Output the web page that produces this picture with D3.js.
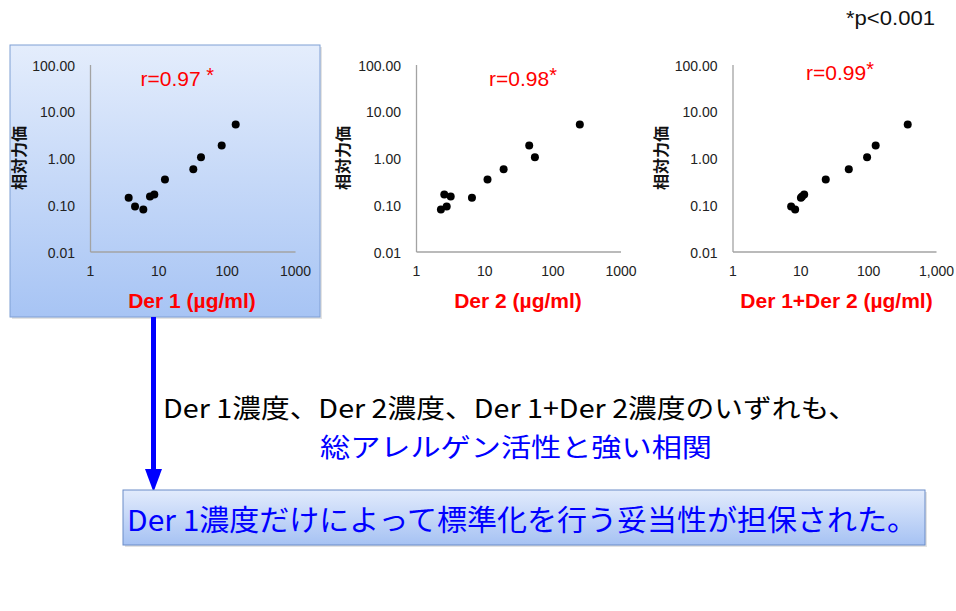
<!DOCTYPE html>
<html>
<head>
<meta charset="utf-8">
<script src="https://cdn.jsdelivr.net/npm/d3@7/dist/d3.min.js"></script>
<style>
  html, body { margin: 0; padding: 0; background: #ffffff; }
  svg { display: block; }
</style>
</head>
<body>
<svg id="chart" width="956" height="611"></svg>
<script>
// ---------------- DATA ----------------
const activity   = [0.141, 0.092, 0.079, 0.150, 0.166, 0.347, 0.575, 1.04, 1.85, 5.21];   // 相対力価
const der1       = [3.68, 4.56, 6.03, 7.55, 8.73, 12.5, 32.5, 42.1, 84.6, 135.6];        // Der 1 (µg/ml)
const der2       = [6.62, 2.82, 2.32, 3.23, 2.60, 11.2, 19.3, 55.5, 45.8, 253];          // Der 2 (µg/ml)
const der12      = [10.2, 7.32, 8.38, 10.6, 11.4, 23.7, 51.8, 96.4, 129, 383];           // Der 1+Der 2 (µg/ml)

const yTickValues = [0.01, 0.1, 1, 10, 100];
const yTickLabels = ["0.01", "0.10", "1.00", "10.00", "100.00"];
const xTickValues = [1, 10, 100, 1000];
const xTickLabelsA = ["1", "10", "100", "1000"];
const xTickLabelsB = ["1", "10", "100", "1,000"];

const panelTitles = ["Der 1 (µg/ml)", "Der 2 (µg/ml)", "Der 1+Der 2 (µg/ml)"];
const rValues     = ["r=0.97", "r=0.98", "r=0.99"];
const yTitle      = "相対力価";
const pNote       = "*p<0.001";
const line1       = "Der 1濃度、Der 2濃度、Der 1+Der 2濃度のいずれも、";
const line2       = "総アレルゲン活性と強い相関";
const conclusion  = "Der 1濃度だけによって標準化を行う妥当性が担保された。";

// ---------------- LAYOUT ----------------
const svg = d3.select("#chart");
const latin = "'Liberation Sans', Arial, sans-serif";
const cjk = "'Noto Sans CJK JP', 'Noto Sans', sans-serif";

const defs = svg.append("defs");
function grad(id, top, bottom) {
  const g = defs.append("linearGradient").attr("id", id)
    .attr("x1", 0).attr("y1", 0).attr("x2", 0).attr("y2", 1);
  g.append("stop").attr("offset", "0%").attr("stop-color", top);
  g.append("stop").attr("offset", "100%").attr("stop-color", bottom);
}
grad("gPanel", "#e4edfc", "#a7c4f4");
grad("gBox", "#e2ebfc", "#a6c2f3");

// Panel 1 highlighted box (with soft shadow)
svg.append("rect").attr("x", 12).attr("y", 47).attr("width", 310).attr("height", 272)
  .attr("fill", "#d0d0d0").attr("opacity", 0.6);
svg.append("rect").attr("x", 10).attr("y", 45).attr("width", 310).attr("height", 272)
  .attr("fill", "url(#gPanel)").attr("stroke", "#7f9fd4").attr("stroke-width", 1);

const panels = [
  { x0: 90,    x1: 295,   xs: der1,  labels: xTickLabelsA, ytx: 18,  rx: 140.5, ry: 86, rsp: " *", title: panelTitles[0], tcx: 192 },
  { x0: 416,   x1: 620.5, xs: der2,  labels: xTickLabelsA, ytx: 342, rx: 489,   ry: 86, rsp: "*",  title: panelTitles[1], tcx: 518 },
  { x0: 732.5, x1: 936,   xs: der12, labels: xTickLabelsB, ytx: 660, rx: 806,   ry: 80, rsp: "*",  title: panelTitles[2], tcx: 836.5 }
];

const yTop = 64.5, yBot = 251.5;

panels.forEach((p, i) => {
  const x = d3.scaleLog().domain([1, 1000]).range([p.x0, p.x1]);
  const y = d3.scaleLog().domain([0.01, 100]).range([yBot, yTop]);
  const g = svg.append("g");

  // y axis
  const ya = g.append("g").attr("transform", `translate(${p.x0},0)`)
    .call(d3.axisLeft(y).tickValues(yTickValues)
      .tickFormat((d, k) => yTickLabels[k]).tickSizeInner(0).tickSizeOuter(0).tickPadding(15));
  ya.select(".domain").attr("stroke", "#a3a3a3").attr("stroke-width", 1.3);
  ya.selectAll("text").attr("font-family", latin).attr("font-size", 14).attr("fill", "#222").attr("dy", "0.4em");

  // x axis
  const xa = g.append("g").attr("transform", `translate(0,${yBot})`)
    .call(d3.axisBottom(x).tickValues(xTickValues)
      .tickFormat((d, k) => p.labels[k]).tickSizeInner(0).tickSizeOuter(0).tickPadding(15));
  xa.select(".domain").attr("stroke", "#a3a3a3").attr("stroke-width", 1.3);
  xa.selectAll("text").attr("font-family", latin).attr("font-size", 14).attr("fill", "#222");

  // points
  g.selectAll("circle.pt").data(p.xs.map((v, k) => [v, activity[k]])).enter()
    .append("circle").attr("class", "pt")
    .attr("cx", d => x(d[0])).attr("cy", d => y(d[1])).attr("r", 4)
    .attr("fill", "#000");

  // y title
  g.append("text")
    .attr("transform", `translate(${p.ytx},${158}) rotate(-90)`)
    .attr("text-anchor", "middle").attr("dominant-baseline", "central")
    .attr("font-family", cjk).attr("font-weight", "bold").attr("font-size", 16)
    .attr("fill", "#111").text(yTitle);

  // r label
  const rt = g.append("text").attr("x", p.rx).attr("y", p.ry)
    .attr("font-family", latin).attr("font-size", 21).attr("fill", "#ff0000");
  rt.append("tspan").text(rValues[i]);
  rt.append("tspan").attr("dy", -4).attr("font-size", 20).text(p.rsp);

  // x title
  g.append("text").attr("x", p.tcx).attr("y", 308).attr("text-anchor", "middle")
    .attr("font-family", latin).attr("font-weight", "bold").attr("font-size", 21)
    .attr("fill", "#ff0000").text(p.title);
});

// p note
svg.append("text").attr("x", 935).attr("y", 25).attr("text-anchor", "end")
  .attr("font-family", latin).attr("font-size", 21).attr("fill", "#111")
  .attr("textLength", 89).attr("lengthAdjust", "spacingAndGlyphs").text(pNote);

// Arrow
svg.append("line").attr("x1", 153.5).attr("y1", 317).attr("x2", 153.5).attr("y2", 472)
  .attr("stroke", "#0000ff").attr("stroke-width", 5);
svg.append("path").attr("d", d3.line()([[145, 469], [162, 469], [153.5, 492]]) + "Z")
  .attr("fill", "#0000ff");

// Middle text
svg.append("text").attr("x", 163).attr("y", 406).attr("dominant-baseline", "central")
  .attr("font-family", cjk).attr("font-size", 26).attr("fill", "#000")
  .attr("textLength", 694).attr("lengthAdjust", "spacingAndGlyphs").text(line1);
svg.append("text").attr("x", 320).attr("y", 445).attr("dominant-baseline", "central")
  .attr("font-family", cjk).attr("font-size", 26).attr("fill", "#0000ff")
  .attr("textLength", 392).attr("lengthAdjust", "spacingAndGlyphs").text(line2);

// Bottom box
svg.append("rect").attr("x", 125).attr("y", 492).attr("width", 802).attr("height", 55)
  .attr("fill", "#d0d0d0").attr("opacity", 0.6);
svg.append("rect").attr("x", 123).attr("y", 490).attr("width", 802).attr("height", 55)
  .attr("fill", "url(#gBox)").attr("stroke", "#6a8cc8").attr("stroke-width", 1);
svg.append("text").attr("x", 127).attr("y", 518).attr("dominant-baseline", "central")
  .attr("font-family", cjk).attr("font-size", 29).attr("fill", "#0000ff")
  .attr("textLength", 790).attr("lengthAdjust", "spacingAndGlyphs").text(conclusion);
</script>
</body>
</html>
